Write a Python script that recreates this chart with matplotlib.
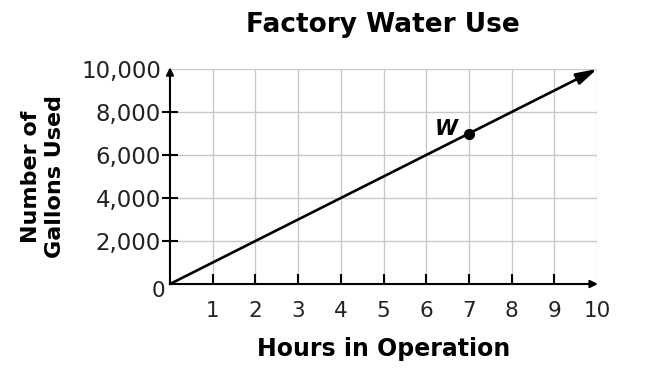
import matplotlib
matplotlib.use('Agg')
import matplotlib.pyplot as plt

hours = [0, 10]
gallons = [0, 10000]
point_x = [7]
point_y = [7000]
point_label = "W"
x_ticks = [1, 2, 3, 4, 5, 6, 7, 8, 9, 10]
y_ticks = [2000, 4000, 6000, 8000, 10000]
y_tick_labels = ["2,000", "4,000", "6,000", "8,000", "10,000"]

plt.rcParams['font.family'] = ['DejaVu Sans']

fig = plt.figure(figsize=(6.5, 3.8), dpi=100)
ax = fig.add_axes([0.2615, 0.2526, 0.657, 0.5658])

ax.set_xlim(0, 10)
ax.set_ylim(0, 10000)

# grid
for x in x_ticks:
    ax.axvline(x, color='#c8c8c8', lw=1, zorder=0)
for y in y_ticks:
    ax.axhline(y, color='#c8c8c8', lw=1, zorder=0)

for s in ax.spines.values():
    s.set_visible(False)

# axes with arrows
arr = dict(arrowstyle='-|>', color='black', lw=1.5, mutation_scale=11, shrinkA=0, shrinkB=0)
ax.annotate('', xy=(10.02, 0), xytext=(0, 0), arrowprops=arr, annotation_clip=False)
ax.annotate('', xy=(0, 10080), xytext=(0, 0), arrowprops=arr, annotation_clip=False)

# main line
line_arr = dict(arrowstyle='-|>,head_length=0.7,head_width=0.2', color='black', lw=1.9,
                mutation_scale=18, shrinkA=0, shrinkB=0)
ax.annotate('', xy=(hours[1], gallons[1]), xytext=(hours[0], gallons[0]),
            arrowprops=line_arr, annotation_clip=False)

ax.plot(point_x, point_y, 'o', color='black', ms=7, zorder=5)
ax.text(point_x[0] - 0.25, point_y[0] + 230, point_label, fontsize=15, fontweight='heavy',
        style='italic', ha='right', va='center')

# ticks
ax.set_xticks(x_ticks)
ax.set_xticklabels([str(v) for v in x_ticks], fontsize=15.5, color='#222222')
ax.set_yticks(y_ticks)
ax.set_yticklabels(y_tick_labels, fontsize=16.5, color='#222222')
ax.tick_params(axis='x', direction='in', length=7, width=1.5, pad=12)
ax.tick_params(axis='y', direction='inout', length=11, width=1.5, pad=1)
ax.xaxis.get_major_ticks()[-1].tick1line.set_visible(False)
ax.yaxis.get_major_ticks()[-1].tick1line.set_visible(False)

fig.text(158 / 650, 1 - 291 / 380, "0", fontsize=15.5, color='#222222', ha='center', va='center')

fig.text(384 / 650, 1 - 349 / 380, "Hours in Operation", fontsize=17, fontweight='bold',
         ha='center', va='center')
fig.text(43 / 650, 1 - 177 / 380, "Number of\nGallons Used", fontsize=16, fontweight='bold',
         rotation=90, ha='center', va='center', linespacing=1.25)
fig.text(383 / 650, 1 - 25 / 380, "Factory Water Use", fontsize=19, fontweight='bold',
         ha='center', va='center')

fig.savefig('out.png', dpi=100)
